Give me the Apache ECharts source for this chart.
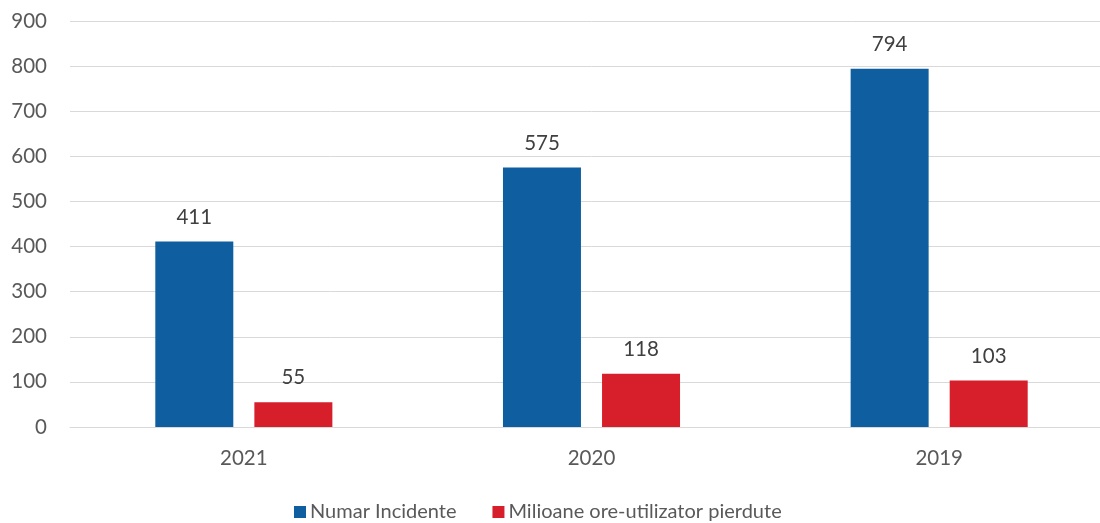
<!DOCTYPE html>
<html><head><meta charset="utf-8">
<script src="https://cdn.jsdelivr.net/npm/echarts@6/dist/echarts.min.js"></script>
<style>html,body{margin:0;padding:0;background:#fff;overflow:hidden}#c{width:1114px;height:523px}</style>
</head><body><div id="c"></div>
<script>
const categories = ['2021', '2020', '2019'];
const incidente = [411, 575, 794];
const oreUtilizator = [55, 118, 103];
const seriesNames = ['Numar Incidente', 'Milioane ore-utilizator pierdute'];
const yTicks = { min: 0, max: 900, interval: 100 };

const chart = echarts.init(document.getElementById('c'), null, { renderer: 'canvas' });
const font = 'Lato, "Open Sans", sans-serif';
const fs = 20.5;
const lbl = { show: true, position: 'top', distance: 14, fontSize: fs, color: '#404040', fontFamily: font };
chart.setOption({
  animation: false,
  grid: { left: 70, top: 21, width: 1043, bottom: 96, containLabel: false },
  legend: {
    left: 289, top: 497, itemWidth: 12, itemHeight: 12, itemGap: 36,
    icon: 'rect',
    textStyle: { fontSize: 20, color: '#595959', fontFamily: font, padding: [0, 0, 0, -1] },
    data: seriesNames
  },
  xAxis: {
    type: 'category', data: categories,
    axisLine: { show: true, lineStyle: { color: '#d9d9d9', width: 1 } },
    axisTick: { show: false },
    axisLabel: { fontSize: fs, color: '#595959', fontFamily: font, margin: 21 }
  },
  yAxis: {
    type: 'value', min: yTicks.min, max: yTicks.max, interval: yTicks.interval,
    axisLine: { show: false }, axisTick: { show: false },
    axisLabel: { fontSize: fs, color: '#595959', fontFamily: font, margin: 23 },
    splitLine: { lineStyle: { color: '#d9d9d9', width: 1 } }
  },
  series: [
    { name: seriesNames[0], type: 'bar', data: incidente, barWidth: 78, barGap: '27%',
      itemStyle: { color: '#0F5FA0' }, label: lbl },
    { name: seriesNames[1], type: 'bar', data: oreUtilizator, barWidth: 78,
      itemStyle: { color: '#D71F2B' }, label: lbl }
  ]
});
</script></body></html>
